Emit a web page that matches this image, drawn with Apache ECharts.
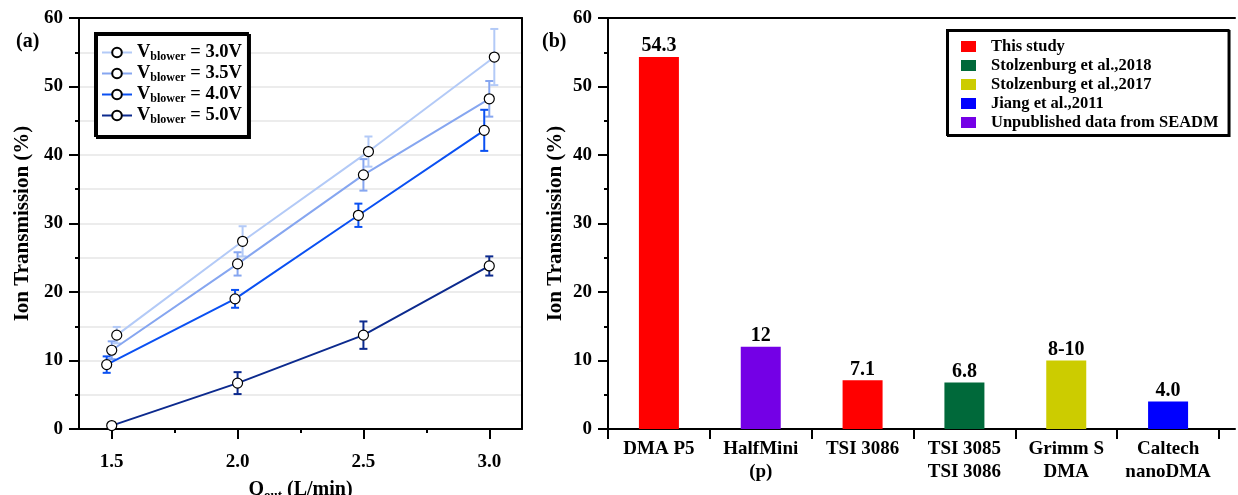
<!DOCTYPE html>
<html><head><meta charset="utf-8">
<script src="https://cdn.jsdelivr.net/npm/echarts@6/dist/echarts.min.js"></script>
<style>html,body{margin:0;padding:0;background:#fff}#c{width:1238px;height:495px}</style>
</head><body><div id="c"></div>
<script>
// ---------- Panel (a) data ----------
const flowTicks = [1.5, 2.0, 2.5, 3.0];
const flowMinorTicks = [1.75, 2.25, 2.75];
const blowerNames = ['Vblower = 3.0V', 'Vblower = 3.5V', 'Vblower = 4.0V', 'Vblower = 5.0V'];
const blowerColors = ['#b3caf7', '#86a6f0', '#0a50f2', '#0c2a8e'];
const flow30 = [1.52, 2.02, 2.52, 3.02];
const trans30 = [13.7, 27.4, 40.5, 54.3];
const err30 = [1.2, 2.2, 2.2, 4.1];
const flow35 = [1.50, 2.00, 2.50, 3.00];
const trans35 = [11.5, 24.1, 37.1, 48.2];
const err35 = [1.3, 1.7, 2.3, 2.6];
const flow40 = [1.48, 1.99, 2.48, 2.98];
const trans40 = [9.4, 19.0, 31.2, 43.6];
const err40 = [1.2, 1.3, 1.7, 3.0];
const flow50 = [1.50, 2.00, 2.50, 3.00];
const trans50 = [0.5, 6.7, 13.7, 23.8];
const err50 = [0.3, 1.6, 2.0, 1.4];

// ---------- Panel (b) data ----------
const dmaNames = ['DMA P5', 'HalfMini\n(p)', 'TSI 3086', 'TSI 3085\nTSI 3086', 'Grimm S\nDMA', 'Caltech\nnanoDMA'];
const dmaValues = [54.3, 12, 7.1, 6.8, 10, 4.0];
const dmaLabels = ['54.3', '12', '7.1', '6.8', '8-10', '4.0'];
const dmaSource = [0, 4, 0, 1, 2, 3];
const sourceNames = ['This study', 'Stolzenburg et al.,2018', 'Stolzenburg et al.,2017', 'Jiang et al.,2011', 'Unpublished data from SEADM'];
const sourceColors = ['#ff0000', '#00693a', '#cccc00', '#0000ff', '#7400e6'];

const FONT = '"Liberation Serif", "Times New Roman", serif';
const lab = {fontFamily: FONT, fontWeight: 'bold', fontSize: 19, color: '#000'};

const flowSets = [
  [flow30, trans30, err30], [flow35, trans35, err35], [flow40, trans40, err40], [flow50, trans50, err50]
];

const series = [];
flowSets.forEach((s, i) => {
  const [xs, ys, es] = s;
  series.push({
    type: 'custom', name: blowerNames[i] + ' err', xAxisIndex: 0, yAxisIndex: 0, z: 2,
    data: xs.map((x, k) => [x, ys[k] - es[k], ys[k] + es[k]]),
    renderItem: (params, api) => {
      const x = api.value(0);
      const top = api.coord([x, api.value(2)]);
      const bot = api.coord([x, api.value(1)]);
      const w = 4, st = {stroke: blowerColors[i], lineWidth: 2};
      return {type: 'group', children: [
        {type: 'line', shape: {x1: top[0], y1: top[1], x2: bot[0], y2: bot[1]}, style: st},
        {type: 'line', shape: {x1: top[0] - w, y1: top[1], x2: top[0] + w, y2: top[1]}, style: st},
        {type: 'line', shape: {x1: bot[0] - w, y1: bot[1], x2: bot[0] + w, y2: bot[1]}, style: st}
      ]};
    }
  });
});
flowSets.forEach((s, i) => {
  const [xs, ys] = s;
  series.push({
    type: 'line', name: blowerNames[i], xAxisIndex: 0, yAxisIndex: 0, z: 3,
    data: xs.map((x, k) => [x, ys[k]]),
    symbol: 'circle', symbolSize: 10,
    itemStyle: {color: '#fff', borderColor: '#000', borderWidth: 1.2},
    lineStyle: {color: blowerColors[i], width: 2},
    emphasis: {disabled: true}
  });
});
sourceNames.forEach((nm, j) => {
  series.push({
    type: 'bar', name: nm, xAxisIndex: 3, yAxisIndex: 2, stack: 'all', barWidth: 40,
    itemStyle: {color: sourceColors[j]},
    data: dmaValues.map((v, k) => dmaSource[k] === j ? v : '-'),
    label: {show: true, position: 'top', distance: 1, ...lab, fontSize: 20,
      formatter: p => dmaLabels[p.dataIndex]}
  });
});

const axisLine = {show: true, lineStyle: {color: '#000', width: 2}};
const noPart = {axisTick: {show: false}, axisLabel: {show: false}, splitLine: {show: false}};

const option = {
  animation: false,
  backgroundColor: '#fff',
  title: [
    {text: '(a)', left: 11, top: 27, textStyle: {...lab, fontSize: 20}},
    {text: '(b)', left: 537, top: 27, textStyle: {...lab, fontSize: 20}}
  ],
  grid: [
    {left: 79, top: 18, width: 443, height: 411, outerBoundsMode: 'none', containLabel: false},
    {left: 608, top: 18, width: 611, height: 411, outerBoundsMode: 'none', containLabel: false},
    {left: 608, top: 18, width: 627, height: 411, outerBoundsMode: 'none', containLabel: false}
  ],
  xAxis: [
    {type: 'value', gridIndex: 0, min: 1.37, max: 3.13, position: 'bottom',
     axisLine, splitLine: {show: false},
     axisTick: {show: true, customValues: flowTicks, length: 10, lineStyle: {width: 2, color: '#000'}},
     axisLabel: {customValues: flowTicks, margin: 24, ...lab, formatter: v => v.toFixed(1)},
     name: '{q|Q}{s|out}{q| (L/min)}', nameLocation: 'middle', nameGap: 50,
     nameTextStyle: {rich: {
       q: {...lab, fontSize: 20, lineHeight: 20},
       s: {...lab, fontSize: 13, lineHeight: 13, padding: [12, 0, 0, 0]}
     }}},
    {type: 'value', gridIndex: 0, min: 1.37, max: 3.13, position: 'bottom',
     axisLine: {show: false}, splitLine: {show: false}, axisLabel: {show: false},
     axisTick: {show: true, customValues: flowMinorTicks, length: 4, lineStyle: {width: 2, color: '#000'}}},
    {type: 'value', gridIndex: 0, min: 1.37, max: 3.13, position: 'top', axisLine, ...noPart},
    {type: 'category', gridIndex: 1, data: dmaNames, position: 'bottom',
     axisLine, splitLine: {show: false},
     axisTick: {show: true, length: 10, lineStyle: {width: 2, color: '#000'}},
     axisLabel: {interval: 0, margin: 9, ...lab, lineHeight: 23}},
    {type: 'value', gridIndex: 2, min: 0, max: 1, position: 'bottom', axisLine, ...noPart},
    {type: 'value', gridIndex: 2, min: 0, max: 1, position: 'top', axisLine, ...noPart}
  ],
  yAxis: [
    {type: 'value', gridIndex: 0, min: 0, max: 60, interval: 10, position: 'left',
     axisLine, axisTick: {show: true, length: 10, lineStyle: {width: 2, color: '#000'}},
     minorTick: {show: true, splitNumber: 2, length: 4, lineStyle: {width: 2, color: '#000'}},
     splitLine: {show: true, lineStyle: {color: '#e6e6e6', width: 1.5}},
     minorSplitLine: {show: true, lineStyle: {color: '#e6e6e6', width: 1.5}},
     axisLabel: {margin: 16, ...lab},
     name: 'Ion Transmission (%)', nameLocation: 'middle', nameGap: 46,
     nameTextStyle: {...lab, fontSize: 21}},
    {type: 'value', gridIndex: 0, min: 0, max: 60, position: 'right', axisLine, ...noPart},
    {type: 'value', gridIndex: 1, min: 0, max: 60, interval: 10, position: 'left',
     axisLine, axisTick: {show: true, length: 10, lineStyle: {width: 2, color: '#000'}},
     minorTick: {show: true, splitNumber: 2, length: 4, lineStyle: {width: 2, color: '#000'}},
     splitLine: {show: false},
     axisLabel: {margin: 16, ...lab},
     name: 'Ion Transmission (%)', nameLocation: 'middle', nameGap: 42,
     nameTextStyle: {...lab, fontSize: 21}},
    {type: 'value', gridIndex: 2, min: 0, max: 1, position: 'right', axisLine, ...noPart}
  ],
  legend: [
    {data: blowerNames, orient: 'vertical', left: 95, top: 33,
     backgroundColor: '#fff', borderColor: '#000', borderWidth: 2,
     shadowColor: '#000', shadowOffsetX: 2, shadowOffsetY: 2, shadowBlur: 0,
     padding: [9, 6, 10, 6], itemGap: 0, itemWidth: 30, itemHeight: 12,
     formatter: n => '{v|V}{s|blower}{v|' + n.replace('Vblower', '') + '}',
     textStyle: {rich: {
       v: {...lab, fontSize: 18.5, lineHeight: 18},
       s: {...lab, fontSize: 12, lineHeight: 12, padding: [9, 0, 0, 0]}
     }}},
    {data: sourceNames, orient: 'vertical', left: 947, top: 30,
     backgroundColor: '#fff', borderColor: '#000', borderWidth: 2,
     shadowColor: '#000', shadowOffsetX: 1, shadowOffsetY: 1, shadowBlur: 0,
     padding: [7, 10, 3, 14], itemGap: 0, itemWidth: 15, itemHeight: 11, icon: 'rect',
     textStyle: {...lab, fontSize: 16.5, lineHeight: 19, padding: [0, 0, 0, 10]}}
  ],
  series
};
const chart = echarts.init(document.getElementById('c'), null, {renderer: 'canvas'});
chart.setOption(option);
</script></body></html>
